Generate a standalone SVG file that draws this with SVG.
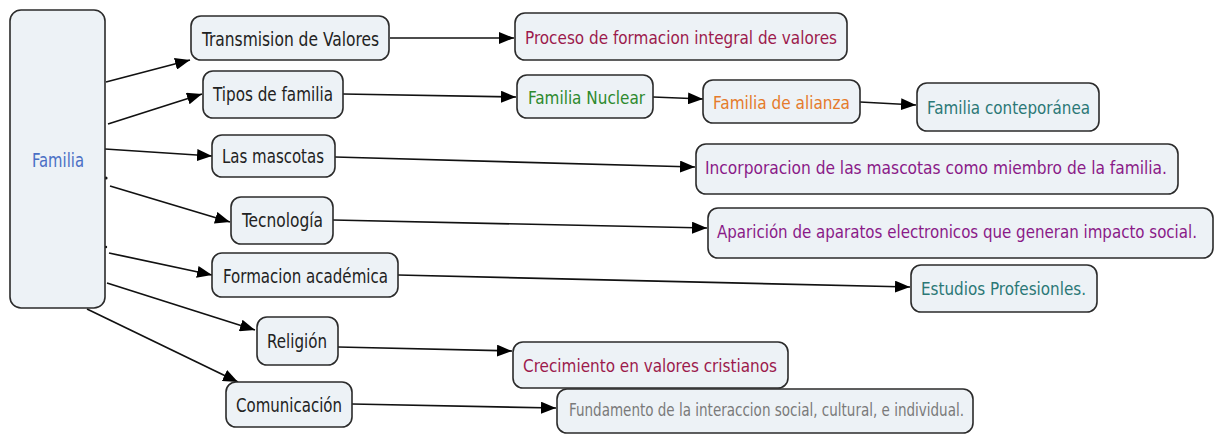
<svg xmlns="http://www.w3.org/2000/svg" width="1220" height="434" viewBox="0 0 1220 434">
<style>
.box{fill:#edf2f6;stroke:#2b2b2b;stroke-width:1.6}
.t{font-family:"DejaVu Sans Condensed","DejaVu Sans",sans-serif;font-size:19px;dominant-baseline:central;fill:#222}
.r{font-size:18px}
.s{font-size:17px}
.c{fill:none;stroke:#111;stroke-width:1.7}
</style>
<defs>
<marker id="ah" viewBox="0 0 15 12" refX="15" refY="6" markerWidth="15" markerHeight="12" markerUnits="userSpaceOnUse" orient="auto">
<path d="M0,0 L15,6 L0,12 Z" fill="#000"/>
</marker>
</defs>
<rect width="1220" height="434" fill="#fff"/>
<g id="connectors">
<path class="c" d="M106,82 L190,60" marker-end="url(#ah)"/>
<path class="c" d="M108,124 L202,94" marker-end="url(#ah)"/>
<path class="c" d="M105,149 L212,156" marker-end="url(#ah)"/>
<path class="c" d="M110,186 L230,222" marker-end="url(#ah)"/>
<path class="c" d="M109,253 L212,275" marker-end="url(#ah)"/>
<path class="c" d="M107,283 L255,330" marker-end="url(#ah)"/>
<path class="c" d="M87,309 L238,382" marker-end="url(#ah)"/>
<path class="c" d="M390,38 L514,38" marker-end="url(#ah)"/>
<path class="c" d="M343,94 L516,97" marker-end="url(#ah)"/>
<path class="c" d="M653,97 L703,99" marker-end="url(#ah)"/>
<path class="c" d="M860,102 L916,105" marker-end="url(#ah)"/>
<path class="c" d="M335,157 L695,167" marker-end="url(#ah)"/>
<path class="c" d="M333,220 L707,228" marker-end="url(#ah)"/>
<path class="c" d="M398,275 L910,287" marker-end="url(#ah)"/>
<path class="c" d="M338,347 L512,351" marker-end="url(#ah)"/>
<path class="c" d="M352,404 L556,408" marker-end="url(#ah)"/>
<circle cx="106" cy="178" r="1.6" fill="#111"/>
<circle cx="106" cy="247" r="1.2" fill="#111"/>
</g>
<g id="familia"><rect class="box" x="10" y="10" width="95" height="298" rx="11"/><text class="t" x="32" y="160" textLength="52" lengthAdjust="spacingAndGlyphs" style="fill:#4a6fc5">Familia</text></g>
<g id="transmision"><rect class="box" x="191" y="16" width="198" height="44" rx="10"/><text class="t" x="202" y="39" textLength="177" lengthAdjust="spacingAndGlyphs">Transmision de Valores</text></g>
<g id="tipos"><rect class="box" x="203" y="71" width="140" height="47" rx="10"/><text class="t" x="213" y="94" textLength="120" lengthAdjust="spacingAndGlyphs">Tipos de familia</text></g>
<g id="mascotas"><rect class="box" x="212" y="135" width="123" height="42" rx="10"/><text class="t" x="222" y="156" textLength="102" lengthAdjust="spacingAndGlyphs">Las mascotas</text></g>
<g id="tecnologia"><rect class="box" x="231" y="197" width="102" height="47" rx="10"/><text class="t" x="242" y="220" textLength="81" lengthAdjust="spacingAndGlyphs">Tecnología</text></g>
<g id="formacion"><rect class="box" x="212" y="253" width="186" height="44" rx="10"/><text class="t" x="223" y="276" textLength="165" lengthAdjust="spacingAndGlyphs">Formacion académica</text></g>
<g id="religion"><rect class="box" x="257" y="317" width="81" height="48" rx="10"/><text class="t" x="267" y="341" textLength="60" lengthAdjust="spacingAndGlyphs">Religión</text></g>
<g id="comunicacion"><rect class="box" x="226" y="382" width="126" height="45" rx="10"/><text class="t" x="236" y="405" textLength="106" lengthAdjust="spacingAndGlyphs">Comunicación</text></g>
<g id="proceso"><rect class="box" x="515" y="13" width="332" height="47" rx="10"/><text class="t r" x="525" y="37" textLength="312" lengthAdjust="spacingAndGlyphs" style="fill:#9c1a4c">Proceso de formacion integral de valores</text></g>
<g id="nuclear"><rect class="box" x="517" y="75" width="136" height="43" rx="10"/><text class="t r" x="528" y="97" textLength="117" lengthAdjust="spacingAndGlyphs" style="fill:#2e8a2e">Familia Nuclear</text></g>
<g id="alianza"><rect class="box" x="703" y="80" width="157" height="43" rx="10"/><text class="t r" x="713" y="102" textLength="137" lengthAdjust="spacingAndGlyphs" style="fill:#e57b2c">Familia de alianza</text></g>
<g id="conteporanea"><rect class="box" x="917" y="83" width="182" height="48" rx="10"/><text class="t r" x="927" y="107" textLength="163" lengthAdjust="spacingAndGlyphs" style="fill:#2b7876">Familia conteporánea</text></g>
<g id="incorporacion"><rect class="box" x="696" y="144" width="482" height="50" rx="10"/><text class="t r" x="705" y="167" textLength="462" lengthAdjust="spacingAndGlyphs" style="fill:#8a1a88">Incorporacion de las mascotas como miembro de la familia.</text></g>
<g id="aparicion"><rect class="box" x="708" y="208" width="505" height="50" rx="10"/><text class="t s" x="717" y="232" textLength="480" lengthAdjust="spacingAndGlyphs" style="fill:#8a1a88">Aparición de aparatos electronicos que generan impacto social.</text></g>
<g id="estudios"><rect class="box" x="911" y="265" width="186" height="47" rx="10"/><text class="t r" x="921" y="288" textLength="165" lengthAdjust="spacingAndGlyphs" style="fill:#2b7876">Estudios Profesionles.</text></g>
<g id="crecimiento"><rect class="box" x="513" y="342" width="275" height="46" rx="10"/><text class="t r" x="523" y="365" textLength="254" lengthAdjust="spacingAndGlyphs" style="fill:#9c1a4c">Crecimiento en valores cristianos</text></g>
<g id="fundamento"><rect class="box" x="557" y="389" width="416" height="44" rx="10"/><text class="t s" x="569" y="410" textLength="395" lengthAdjust="spacingAndGlyphs" style="fill:#7a7a7a">Fundamento de la interaccion social, cultural, e individual.</text></g>
</svg>
